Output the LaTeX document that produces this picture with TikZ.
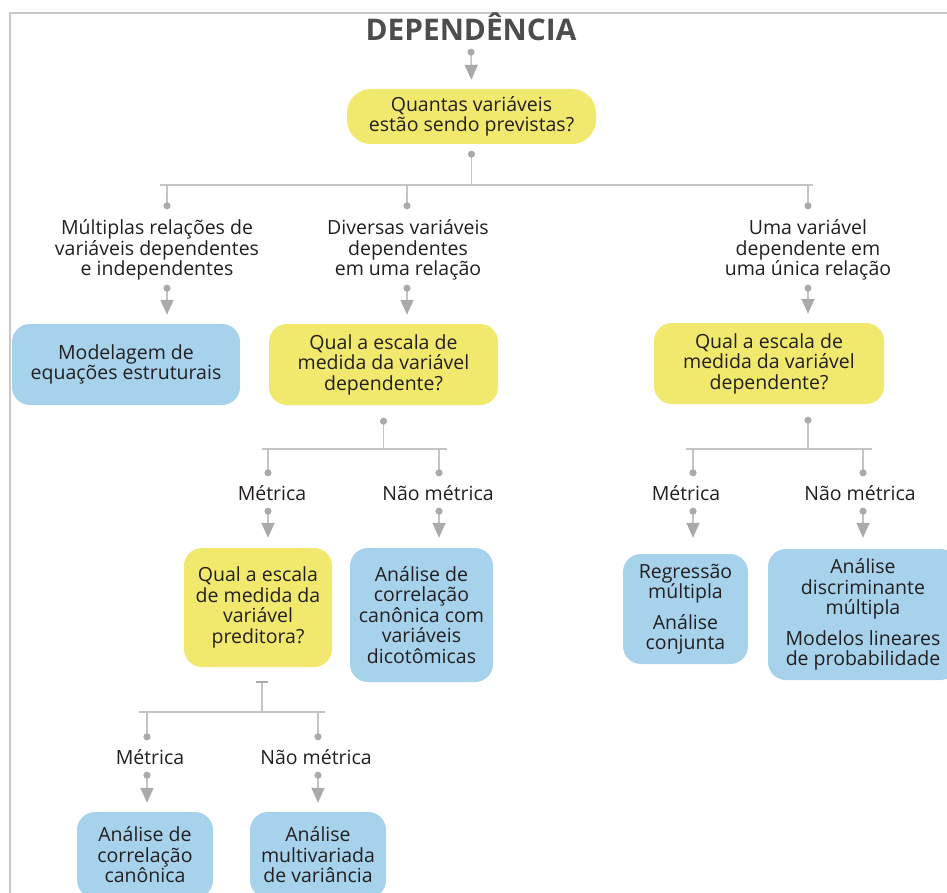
\documentclass[tikz,border=0pt]{standalone}
\usepackage{fontspec}
\setmainfont{Open Sans}
\usetikzlibrary{arrows.meta}
\definecolor{boxyellow}{RGB}{241,233,110}
\definecolor{boxblue}{RGB}{167,210,236}
\definecolor{txt}{RGB}{35,31,32}
\definecolor{ttlc}{RGB}{77,77,77}
\definecolor{lin}{RGB}{196,196,196}
\definecolor{tipc}{RGB}{170,170,170}
\definecolor{framec}{RGB}{200,200,200}
\begin{document}
\begin{tikzpicture}[x=1pt,y=-1pt,
  every node/.style={inner sep=0pt, text=txt, font=\fontsize{19.5}{20.5}\selectfont, align=center},
  ttl/.style={font=\fontsize{29.8}{30}\selectfont\bfseries, text=ttlc, text height=21pt, text depth=0pt, minimum height=30pt},
  ybox/.style={fill=boxyellow, rounded corners=18pt},
  bbox/.style={fill=boxblue, rounded corners=18pt},
  lblthree/.style={minimum height=68pt},
  lblone/.style={minimum height=26pt},
  link/.style={draw=lin, line width=1.6pt},
  dotarrow/.style={link, {Circle[length=7pt,color=tipc]}-{Triangle[width=13pt,length=15pt,color=tipc]}},
  dotline/.style={link, {Circle[length=7pt,color=tipc]}-},
  linedot/.style={link, -{Circle[length=7pt,color=tipc]}},
  barline/.style={link, {Bar[width=12pt,color=tipc]}-}
]
\useasboundingbox (0,0) rectangle (947,893);
\clip (0,0) rectangle (947,893);
\fill[white] (0,0) rectangle (947,893);

% frame
\draw[draw=framec, line width=1.5pt] (10,893) -- (10,13) -- (947,13);

% nodes
\node[ttl] (title) at (471,30.5) {DEPENDÊNCIA};
\node[ybox, minimum width=249pt, minimum height=55pt, rounded corners=24pt] (q1) at (471.5,116.5) {Quantas variáveis\\estão sendo previstas?};
\node[lblthree] (l1a) at (157,250) {Múltiplas relações de\\variáveis dependentes\\e independentes};
\node[lblthree] (l1b) at (408,250) {Diversas variáveis\\dependentes\\em uma relação};
\node[lblthree] (l1c) at (808,250) {Uma variável\\dependente em\\uma única relação};
\node[bbox, minimum width=228pt, minimum height=81pt] (m1) at (126,364.5) {Modelagem de\\equações estruturais};
\node[ybox, minimum width=229pt, minimum height=81pt] (q2) at (383.5,364.5) {Qual a escala de\\medida da variável\\dependente?};
\node[ybox, minimum width=230pt, minimum height=81pt] (q3) at (769,363.5) {Qual a escala de\\medida da variável\\dependente?};
\node[lblone] (l2a) at (272,493) {Métrica};
\node[lblone] (l2b) at (438,493) {Não métrica};
\node[lblone] (l4a) at (686,493) {Métrica};
\node[lblone] (l4b) at (860,493) {Não métrica};
\node[ybox, minimum width=148pt, minimum height=119pt] (q4) at (258,607.5) {Qual a escala\\de medida da\\variável\\preditora?};
\node[bbox, minimum width=143pt, minimum height=134pt] (b5) at (421.5,615) {Análise de\\correlação\\canônica com\\variáveis\\dicotômicas};
\node[bbox, minimum width=125pt, minimum height=110pt] (b8) at (685.5,609) {Regressão\\múltipla\\[10pt]Análise\\conjunta};
\node[bbox, minimum width=190pt, minimum height=131pt] (b9) at (863,614.5) {Análise\\discriminante\\múltipla\\[10pt]Modelos lineares\\de probabilidade};
\node[lblone] (l3a) at (150,757) {Métrica};
\node[lblone] (l3b) at (316,757) {Não métrica};
\node[bbox, minimum width=136pt, minimum height=86pt] (b6) at (145,855) {Análise de\\correlação\\canônica};
\node[bbox, minimum width=136pt, minimum height=86pt] (b7) at (318,855) {Análise\\multivariada\\de variância};

% column and junction coordinates
\coordinate (k1) at (167,0);
\coordinate (k2) at (407,0);
\coordinate (k3) at (808,0);
\coordinate (k4) at (268,0);
\coordinate (k5) at (439,0);
\coordinate (k6) at (147,0);
\coordinate (k7) at (318,0);
\coordinate (k8) at (693,0);
\coordinate (k9) at (863,0);
\coordinate (j1) at (471.5,185);
\coordinate (j2) at (383.5,449);
\coordinate (j3) at (262,712);
\coordinate (j4) at (808,449);
\coordinate (bl1) at (160,185);
\coordinate (br1) at (813,185);
\coordinate (bl2) at (262,449);
\coordinate (br2) at (447,449);
\coordinate (bl3) at (139,712);
\coordinate (br3) at (325,712);
\coordinate (bl4) at (686,449);
\coordinate (br4) at (872,449);

% title -> q1
\draw[dotarrow, shorten <=3pt, shorten >=9pt] (title.south) -- (q1.north);

% q1 -> level 1
\draw[dotline, shorten <=6.5pt] (j1 |- q1.south) -- (j1);
\draw[link] (bl1) -- (br1);
\draw[linedot, shorten >=6.5pt] (k1 |- j1) -- (k1 |- l1a.north);
\draw[linedot, shorten >=6.5pt] (k2 |- j1) -- (k2 |- l1b.north);
\draw[linedot, shorten >=6.5pt] (k3 |- j1) -- (k3 |- l1c.north);
\draw[dotarrow, shorten <=0.5pt, shorten >=9pt] (k1 |- l1a.south) -- (k1 |- m1.north);
\draw[dotarrow, shorten <=0.5pt, shorten >=9pt] (k2 |- l1b.south) -- (k2 |- q2.north);
\draw[dotarrow, shorten <=0.5pt, shorten >=9pt] (k3 |- l1c.south) -- (k3 |- q3.north);

% q2 -> level 2
\draw[dotline, shorten <=12.5pt] (j2 |- q2.south) -- (j2);
\draw[link] (bl2) -- (br2);
\draw[linedot, shorten >=3.5pt] (k4 |- j2) -- (k4 |- l2a.north);
\draw[linedot, shorten >=3.5pt] (k5 |- j2) -- (k5 |- l2b.north);
\draw[dotarrow, shorten <=1.5pt, shorten >=10pt] (k4 |- l2a.south) -- (k4 |- q4.north);
\draw[dotarrow, shorten <=1.5pt, shorten >=10pt] (k5 |- l2b.south) -- (k5 |- b5.north);

% q3 -> level 2 right
\draw[dotline, shorten <=12.5pt] (j4 |- q3.south) -- (j4);
\draw[link] (bl4) -- (br4);
\draw[linedot, shorten >=3.5pt] (k8 |- j4) -- (k8 |- l4a.north);
\draw[linedot, shorten >=3.5pt] (k9 |- j4) -- (k9 |- l4b.north);
\draw[dotarrow, shorten <=1.5pt, shorten >=16pt] (k8 |- l4a.south) -- (k8 |- b8.north);
\draw[dotarrow, shorten <=1.5pt, shorten >=11pt] (k9 |- l4b.south) -- (k9 |- b9.north);

% q4 -> level 3
\draw[barline, shorten <=14pt] (j3 |- q4.south) -- (j3);
\draw[link] (bl3) -- (br3);
\draw[linedot, shorten >=3.5pt] (k6 |- j3) -- (k6 |- l3a.north);
\draw[linedot, shorten >=3.5pt] (k7 |- j3) -- (k7 |- l3b.north);
\draw[dotarrow, shorten <=1.5pt, shorten >=9pt] (k6 |- l3a.south) -- (k6 |- b6.north);
\draw[dotarrow, shorten <=1.5pt, shorten >=9pt] (k7 |- l3b.south) -- (k7 |- b7.north);
\end{tikzpicture}
\end{document}
